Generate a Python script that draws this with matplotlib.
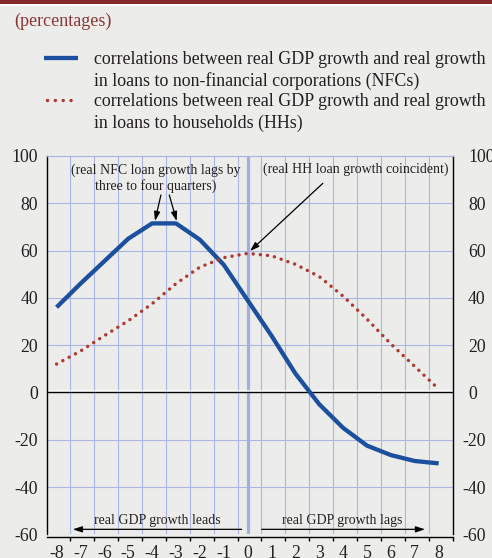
import matplotlib
matplotlib.use("Agg")
import matplotlib.pyplot as plt
from matplotlib.lines import Line2D
from matplotlib.patches import Rectangle
from matplotlib.ticker import FixedLocator, NullFormatter

# ---------------- data ----------------
lags = list(range(-8, 9))
nfc_corr = [36, 46, 55.5, 65, 71.5, 71.5, 64.6, 54, 39, 24, 8, -5, -15, -22.5, -26.5, -29, -30]
hh_corr = [12, 17.5, 24, 30.3, 37.5, 46, 53, 57, 58.8, 57.8, 54.2, 49, 40.7, 31, 20.5, 11, 1.4]
y_ticks = [-60, -40, -20, 0, 20, 40, 60, 80, 100]
x_tick_labels = [str(v) for v in lags]

unit_label = "(percentages)"
legend_nfc = "correlations between real GDP growth and real growth\nin loans to non-financial corporations (NFCs)"
legend_hh = "correlations between real GDP growth and real growth\nin loans to households (HHs)"
note_nfc = "(real NFC loan growth lags by\nthree to four quarters)"
note_hh = "(real HH loan growth coincident)"
note_leads = "real GDP growth leads"
note_lags = "real GDP growth lags"

# ---------------- style ----------------
plt.rcParams["font.family"] = ["Liberation Serif", "DejaVu Serif"]
plt.rcParams["axes.unicode_minus"] = False

BG = "#ecedeb"
BLUE = "#1c509e"
RED = "#ad3a30"
GRID = "#aab5e4"
ZERO_V = "#a3aee0"
TXT = "#231f20"
W, H = 492, 558
TICK_FS = 12.8

fig = plt.figure(figsize=(W / 100, H / 100), dpi=100, facecolor=BG)
ax = fig.add_axes([47 / W, 1 - 534.3 / H, (453 - 47) / W, (534.3 - 156) / H], facecolor=BG)

ax.set_xlim(-8.4, 8.6)
ax.set_ylim(-60, 100)

# grid
ax.yaxis.set_major_locator(FixedLocator(y_ticks))
ax.set_yticklabels([str(v) for v in y_ticks])
ax.xaxis.set_major_locator(FixedLocator(lags))
ax.set_xticklabels(x_tick_labels)
ax.xaxis.set_minor_locator(FixedLocator([v + 0.58 for v in range(-9, 9)]))
ax.xaxis.set_minor_formatter(NullFormatter())
ax.grid(True, which="minor", axis="x", color=GRID, lw=0.8, zorder=0)
ax.grid(True, which="major", axis="y", color=GRID, lw=0.8, zorder=0)
ax.grid(False, which="major", axis="x")
for gl, t in zip(ax.yaxis.get_gridlines(), y_ticks):
    if t in (0, -60):
        gl.set_visible(False)
ax.set_axisbelow(True)

# zero lines
ax.axvline(0, color=ZERO_V, lw=2.3, zorder=1)
ax.axhline(0.6, color="white", lw=1.1, zorder=1.2)
ax.axhline(0, color="black", lw=1.0, zorder=1.3)

# spines and ticks
for s in ("left", "right"):
    ax.spines[s].set_color("black")
    ax.spines[s].set_linewidth(1.0)
ax.spines["top"].set_color(GRID)
ax.spines["top"].set_linewidth(0.8)
ax.spines["bottom"].set_position(("outward", 2.3))
ax.spines["bottom"].set_linewidth(1.0)
ax.tick_params(axis="y", which="both", length=0, pad=6.3, labelsize=TICK_FS, labelcolor=TXT)
ax.tick_params(axis="x", which="major", length=0, pad=5.5, labelsize=TICK_FS, labelcolor=TXT)
ax.tick_params(axis="x", which="minor", length=3.2, width=1.0, direction="out", color="black")

# right-hand labels (digits aligned, minus hanging)
for v in y_ticks:
    off = 6.5 if v < 0 else 10.8
    ax.annotate(str(v), xy=(1, v), xycoords=("axes fraction", "data"),
                xytext=(off, 0), textcoords="offset points",
                ha="left", va="center_baseline", fontsize=TICK_FS, color=TXT,
                annotation_clip=False)

# data
ax.plot(lags, nfc_corr, color=BLUE, lw=3.1, solid_capstyle="butt", solid_joinstyle="round", zorder=3)
ax.plot(lags, hh_corr, color=RED, lw=2.5, linestyle=(0, (0.01, 2.05)),
        dash_capstyle="round", zorder=3)

# annotations
arrow = dict(arrowstyle="-|>,head_length=0.55,head_width=0.18", color="black", lw=0.9,
             shrinkA=0, shrinkB=0, mutation_scale=10)
ax.text(-3.84, 90.7, note_nfc, ha="center", va="center", fontsize=10, color=TXT, linespacing=1.2)
ax.annotate("", xy=(-3.88, 72.5), xytext=(-3.63, 83.5), arrowprops=arrow)
ax.annotate("", xy=(-2.97, 72.5), xytext=(-3.28, 83.5), arrowprops=arrow)
ax.text(4.53, 94.4, note_hh, ha="center", va="center", fontsize=10, color=TXT)
ax.annotate("", xy=(0.10, 59.8), xytext=(3.15, 88.45), arrowprops=arrow)

ax.text(-3.79, -54.3, note_leads, ha="center", va="center", fontsize=10, color=TXT)
ax.annotate("", xy=(-7.32, -57.9), xytext=(-0.25, -57.9), arrowprops=arrow)
ax.text(3.98, -54.3, note_lags, ha="center", va="center", fontsize=10, color=TXT)
ax.annotate("", xy=(7.43, -57.9), xytext=(0.59, -57.9), arrowprops=arrow)

# header bar
fig.add_artist(Rectangle((0, 1 - 4.5 / H), 1, 4.5 / H, transform=fig.transFigure,
                         color="#86292f", lw=0))
fig.add_artist(Rectangle((0, 1 - 6.3 / H), 1, 1.8 / H, transform=fig.transFigure,
                         color="white", lw=0))

fig.text(14 / W, 1 - 21 / H, unit_label, ha="left", va="center", fontsize=13, color="#8c3533")

# legend (manual)
leg_x = 94.3 / W
entries = [(legend_nfc, 59.5), (legend_hh, 101.5)]
for label, y0 in entries:
    for i, line in enumerate(label.split("\n")):
        fig.text(leg_x, 1 - (y0 + 21.5 * i) / H, line, ha="left", va="center",
                 fontsize=12.9, color=TXT)
fig.add_artist(Line2D([44 / W, 78 / W], [1 - 58 / H, 1 - 58 / H], transform=fig.transFigure,
                      color=BLUE, lw=3.1, solid_capstyle="butt"))
fig.add_artist(Line2D([46.5 / W, 78 / W], [1 - 100 / H, 1 - 100 / H], transform=fig.transFigure,
                      color=RED, lw=2.5, linestyle=(0, (0.01, 2.25)), dash_capstyle="round"))

fig.savefig("out.png", dpi=100, facecolor=BG)
